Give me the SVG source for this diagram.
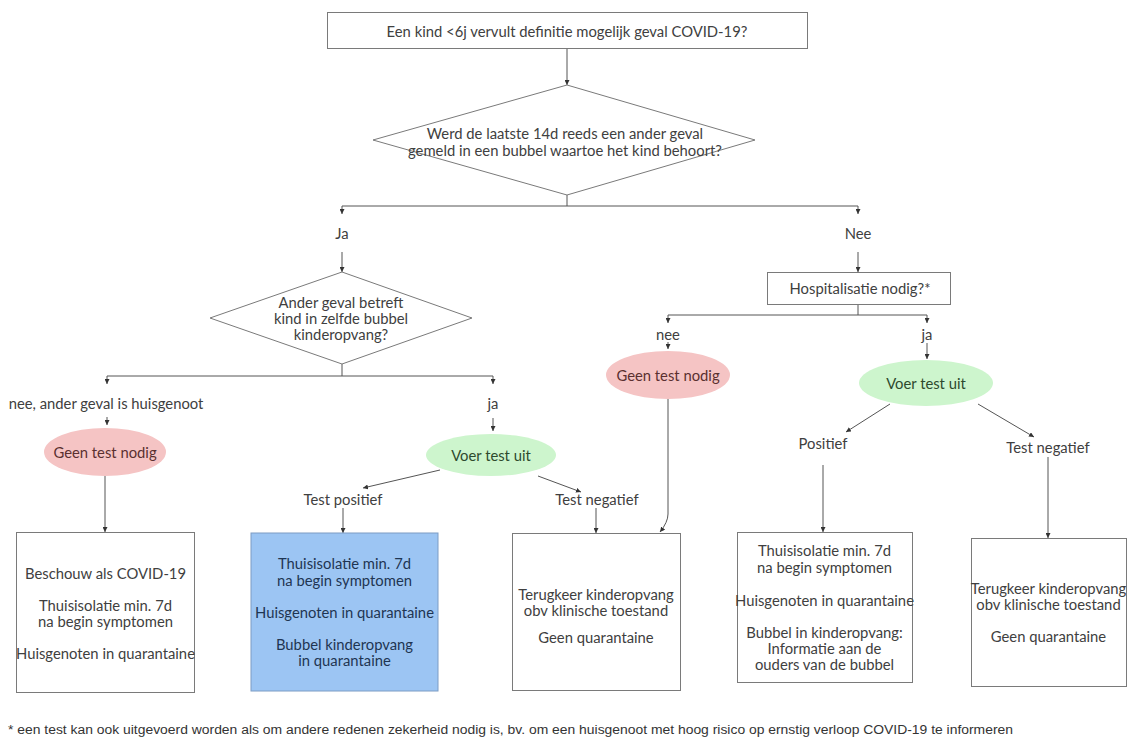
<svg xmlns="http://www.w3.org/2000/svg" width="1130" height="740" viewBox="0 0 1130 740">
<defs>
<marker id="ah" viewBox="0 0 6 6" refX="6" refY="3" markerWidth="5" markerHeight="5" markerUnits="userSpaceOnUse" orient="auto">
<path d="M0,0 L6,3 L0,6 z" fill="#333"/>
</marker>
<style>
text{font-family:Lato,"Open Sans","Liberation Sans",sans-serif;font-size:14.8px;fill:#404040;text-anchor:middle;dominant-baseline:central}
.box{fill:#fff;stroke:#7a7a7a;stroke-width:1}
.blue{fill:#9cc5f3;stroke:#7d9cc4;stroke-width:1}
.pink{fill:#f5c4c4;stroke:none}
.green{fill:#cdf5cd;stroke:none}
.pink-t{fill:#5a3030}
.green-t{fill:#2e4a2e}
.blue-t{fill:#1f3552}
.conn line,.conn path,.conn polyline{stroke:#555;stroke-width:1;fill:none}
.foot{font-family:"Liberation Sans",Arial,sans-serif;font-size:12.5px;text-anchor:start;fill:#333}
</style>
</defs>
<rect width="1130" height="740" fill="#fff"/>

<g class="conn" id="connectors">
<line x1="567" y1="48" x2="567" y2="85" marker-end="url(#ah)"/>
<polyline points="567,195 567,206"/>
<polyline points="342,206 858,206"/>
<line x1="342" y1="206" x2="342" y2="214" marker-end="url(#ah)"/>
<line x1="858" y1="206" x2="858" y2="214" marker-end="url(#ah)"/>
<line x1="342" y1="252" x2="342" y2="272" marker-end="url(#ah)"/>
<line x1="858" y1="252" x2="858" y2="272" marker-end="url(#ah)"/>
<polyline points="342,364 342,376"/>
<polyline points="107,376 493,376"/>
<line x1="107" y1="376" x2="107" y2="384" marker-end="url(#ah)"/>
<line x1="493" y1="376" x2="493" y2="384" marker-end="url(#ah)"/>
<line x1="107" y1="417" x2="107" y2="425" marker-end="url(#ah)"/>
<line x1="493" y1="418" x2="493" y2="431" marker-end="url(#ah)"/>
<line x1="105" y1="476" x2="105" y2="532" marker-end="url(#ah)"/>
<line x1="440" y1="470" x2="363" y2="488" marker-end="url(#ah)"/>
<line x1="538" y1="476" x2="581" y2="492" marker-end="url(#ah)"/>
<line x1="343" y1="508" x2="343" y2="533" marker-end="url(#ah)"/>
<line x1="596" y1="508" x2="596" y2="533" marker-end="url(#ah)"/>
<polyline points="858,304 858,315"/>
<polyline points="668,315 927,315"/>
<line x1="668" y1="315" x2="668" y2="323" marker-end="url(#ah)"/>
<line x1="927" y1="315" x2="927" y2="323" marker-end="url(#ah)"/>
<line x1="668" y1="342" x2="668" y2="349" marker-end="url(#ah)"/>
<line x1="927" y1="343" x2="927" y2="359" marker-end="url(#ah)"/>
<path d="M668,399 L668,514 Q668,522 660,532" marker-end="url(#ah)"/>
<line x1="890" y1="404" x2="846" y2="432" marker-end="url(#ah)"/>
<line x1="978" y1="404" x2="1034" y2="437" marker-end="url(#ah)"/>
<line x1="823" y1="465" x2="823" y2="532" marker-end="url(#ah)"/>
<line x1="1048" y1="457" x2="1048" y2="538" marker-end="url(#ah)"/>
</g>

<g id="start">
<rect class="box" x="327.5" y="12.5" width="480" height="36"/>
<text x="567" y="31">Een kind &lt;6j vervult definitie mogelijk geval COVID-19?</text>
</g>

<g id="q-bubbel">
<polygon class="box" points="567,85 755,140 567,195 373,140"/>
<text x="565" y="133">Werd de laatste 14d reeds een ander geval</text>
<text x="565" y="150">gemeld in een bubbel waartoe het kind behoort?</text>
</g>

<g id="lbl-ja"><text x="342" y="233">Ja</text></g>
<g id="lbl-nee"><text x="858" y="233">Nee</text></g>

<g id="q-kind">
<polygon class="box" points="342,272 472,318 342,364 210,318"/>
<text x="341" y="302">Ander geval betreft</text>
<text x="341" y="318">kind in zelfde bubbel</text>
<text x="341" y="334">kinderopvang?</text>
</g>

<g id="lbl-huisgenoot"><text x="106" y="403">nee, ander geval is huisgenoot</text></g>
<g id="lbl-ja2"><text x="493" y="403">ja</text></g>

<g id="geen-test-1">
<ellipse class="pink" cx="105" cy="452" rx="61" ry="24"/>
<text class="pink-t" x="105" y="452">Geen test nodig</text>
</g>

<g id="voer-test-1">
<ellipse class="green" cx="491" cy="455" rx="65" ry="21"/>
<text class="green-t" x="491" y="455">Voer test uit</text>
</g>

<g id="lbl-test-pos"><text x="343" y="499">Test positief</text></g>
<g id="lbl-test-neg"><text x="597" y="499">Test negatief</text></g>

<g id="box-covid">
<rect class="box" x="16.5" y="532.5" width="178" height="160"/>
<text x="105.5" y="573">Beschouw als COVID-19</text>
<text x="105.5" y="605">Thuisisolatie min. 7d</text>
<text x="105.5" y="621">na begin symptomen</text>
<text x="105.5" y="653">Huisgenoten in quarantaine</text>
</g>

<g id="box-pos-bubbel">
<rect class="blue" x="251" y="533" width="187" height="158"/>
<text class="blue-t" x="344.5" y="563">Thuisisolatie min. 7d</text>
<text class="blue-t" x="344.5" y="580">na begin symptomen</text>
<text class="blue-t" x="344.5" y="612">Huisgenoten in quarantaine</text>
<text class="blue-t" x="344.5" y="644">Bubbel kinderopvang</text>
<text class="blue-t" x="344.5" y="660">in quarantaine</text>
</g>

<g id="box-neg-1">
<rect class="box" x="512.5" y="533.5" width="168" height="157"/>
<text x="596" y="594">Terugkeer kinderopvang</text>
<text x="596" y="610">obv klinische toestand</text>
<text x="596" y="637">Geen quarantaine</text>
</g>

<g id="hospitalisatie">
<rect class="box" x="767.5" y="272.5" width="183" height="32"/>
<text x="860" y="288">Hospitalisatie nodig?*</text>
</g>

<g id="lbl-nee2"><text x="668" y="334">nee</text></g>
<g id="lbl-ja3"><text x="927" y="334">ja</text></g>

<g id="geen-test-2">
<ellipse class="pink" cx="668" cy="375" rx="62" ry="24"/>
<text class="pink-t" x="668" y="375">Geen test nodig</text>
</g>

<g id="voer-test-2">
<ellipse class="green" cx="926" cy="383" rx="67" ry="23"/>
<text class="green-t" x="926" y="383">Voer test uit</text>
</g>

<g id="lbl-positief"><text x="823" y="443">Positief</text></g>
<g id="lbl-test-neg2"><text x="1048" y="447">Test negatief</text></g>

<g id="box-pos-2">
<rect class="box" x="737.5" y="532.5" width="175" height="150"/>
<text x="824.5" y="550">Thuisisolatie min. 7d</text>
<text x="824.5" y="567">na begin symptomen</text>
<text x="824.5" y="600">Huisgenoten in quarantaine</text>
<text x="824.5" y="632">Bubbel in kinderopvang:</text>
<text x="824.5" y="648">Informatie aan de</text>
<text x="824.5" y="664">ouders van de bubbel</text>
</g>

<g id="box-neg-2">
<rect class="box" x="971.5" y="538.5" width="155" height="148"/>
<text x="1048.5" y="588">Terugkeer kinderopvang</text>
<text x="1048.5" y="604">obv klinische toestand</text>
<text x="1048.5" y="636">Geen quarantaine</text>
</g>

<g id="footnote">
<text class="foot" x="8" y="730" textLength="1005" lengthAdjust="spacingAndGlyphs">* een test kan ook uitgevoerd worden als om andere redenen zekerheid nodig is, bv. om een huisgenoot met hoog risico op ernstig verloop COVID-19 te informeren</text>
</g>
</svg>
